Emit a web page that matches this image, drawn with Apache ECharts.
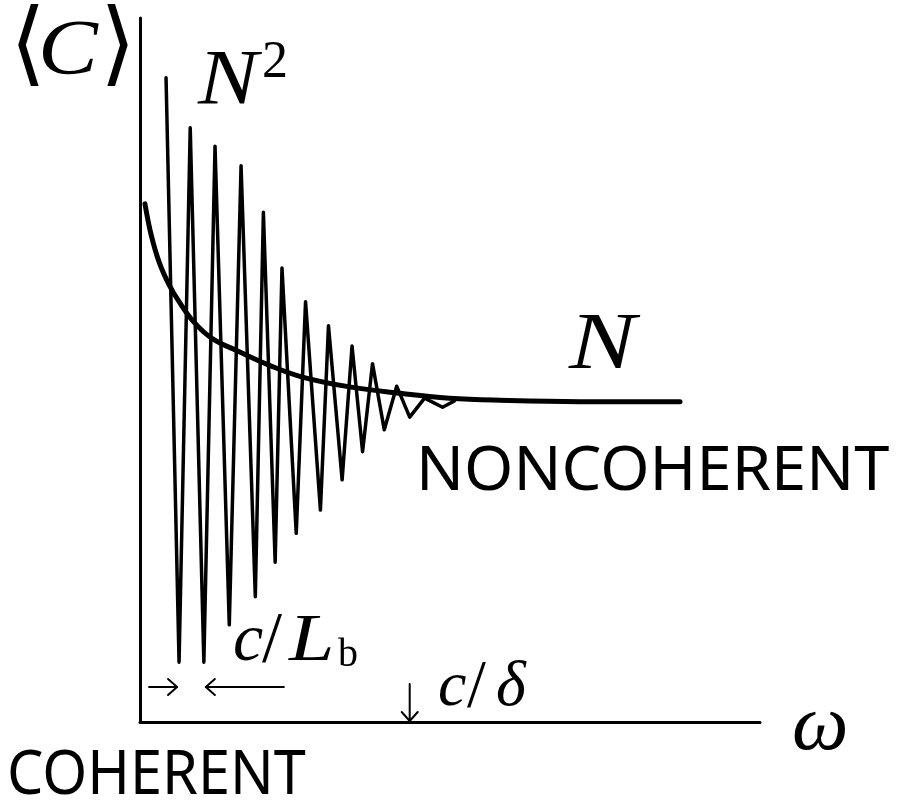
<!DOCTYPE html>
<html>
<head>
<meta charset="utf-8">
<script src="https://cdn.jsdelivr.net/npm/echarts@6/dist/echarts.min.js"></script>
<style>
  html, body { margin: 0; padding: 0; background: #ffffff; }
  #chart { width: 904px; height: 809px; }
</style>
</head>
<body>
<div id="chart"></div>
<script>
// Coherent response: alternating peaks and troughs that die out with omega
const omegaOsc = [4.2, 6.3, 8.1, 10.3, 12.1, 14.4, 16.3, 18.6, 19.9, 21.8, 22.9, 25.2,
                  26.7, 29.1, 30.4, 32.6, 34.2, 35.9, 37.5, 39.4, 41.4, 43.5, 45.9, 48.8, 50.7];
const valueOsc = [91.5, 8.5, 84.4, 8.5, 81.8, 13.8, 79.0, 17.8, 72.4, 22.7, 64.5, 26.8,
                  59.7, 30.1, 56.3, 34.4, 53.4, 38.4, 50.9, 41.5, 47.7, 43.3, 46.0, 44.7, 45.6];

// Averaged (noncoherent) level
const omegaAvg = [0.8, 1.8, 3.1, 4.7, 6.3, 8.7, 11.6, 16.0, 20.8, 26.2, 33.8, 41.8, 49.9, 58.0, 70.9, 87.1];
const valueAvg = [73.6, 69.2, 65.3, 62.1, 59.7, 56.8, 54.5, 52.6, 50.7, 49.0, 47.6, 46.7, 46.0, 45.7, 45.5, 45.5];

// Marked frequencies on the omega axis
const markLb = [6.3, 10.3];   // neighbouring troughs, spacing c/L_b
const markDelta = 43.5;       // c/delta, where the oscillation fades

const zip = (xs, ys) => xs.map((x, i) => [x, ys[i]]);

const chart = echarts.init(document.getElementById('chart'), null, { renderer: 'canvas' });

const SERIF = "'Liberation Serif', 'DejaVu Serif', serif";
const SANS = "'Noto Sans', 'Open Sans', sans-serif";

const axisCommon = {
  type: 'value',
  min: 0,
  max: 100,
  axisLine: { show: true, lineStyle: { color: '#000', width: 3 } },
  axisTick: { show: false },
  axisLabel: { show: false },
  splitLine: { show: false }
};

chart.setOption({
  animation: false,
  backgroundColor: '#ffffff',
  grid: { left: 140, right: 144, top: 18, bottom: 87, containLabel: false },
  xAxis: Object.assign({}, axisCommon),
  yAxis: Object.assign({}, axisCommon),
  series: [
    {
      name: 'coherent',
      type: 'line',
      data: zip(omegaOsc, valueOsc),
      symbol: 'none',
      smooth: false,
      lineStyle: { color: '#000', width: 3.5, join: 'round', cap: 'round' },
      z: 2
    },
    {
      name: 'average',
      type: 'line',
      data: zip(omegaAvg, valueAvg),
      symbol: 'none',
      smooth: 0.4,
      lineStyle: { color: '#000', width: 5, cap: 'round' },
      z: 3
    }
  ]
});

function txt(text, x, y, font, sx) {
  return {
    type: 'text',
    x: x, y: y,
    scaleX: sx || 1,
    silent: true,
    style: {
      text: text, font: font, fill: '#000',
      align: 'left', verticalAlign: 'middle',
      textAlign: 'left', textVerticalAlign: 'middle'
    }
  };
}

function seg(x1, y1, x2, y2, w) {
  return {
    type: 'line', silent: true,
    shape: { x1: x1, y1: y1, x2: x2, y2: y2 },
    style: { stroke: '#000', lineWidth: w || 2, lineCap: 'round' }
  };
}

// Arrows anchored to the marked frequencies
const pA = chart.convertToPixel({ gridIndex: 0 }, [markLb[0], 0]);
const pB = chart.convertToPixel({ gridIndex: 0 }, [markLb[1], 0]);
const pD = chart.convertToPixel({ gridIndex: 0 }, [markDelta, 0]);
const ay = pA[1] - 35;

const graphics = [
  // y-axis label
  txt('⟨', 10, 50, `92px ${SERIF}`),
  txt('C', 38, 52, `italic 78px ${SERIF}`, 1.15),
  txt('⟩', 100, 50, `92px ${SERIF}`),
  // peak and plateau labels
  txt('N', 198, 82, `italic 78px ${SERIF}`, 1.15),
  txt('2', 262, 63, `52px ${SERIF}`),
  txt('N', 569, 347, `italic 80px ${SERIF}`, 1.25),
  // regime names
  txt('NONCOHERENT', 416, 472, `62px ${SANS}`, 1.02),
  txt('COHERENT', 7, 776, `62px ${SANS}`, 0.93),
  // c / L_b
  txt('c', 233, 642, `italic 68px ${SERIF}`),
  txt('/', 262, 642, `72px ${SERIF}`),
  txt('L', 289, 642, `italic 68px ${SERIF}`, 1.2),
  txt('b', 338, 655, `40px ${SERIF}`),
  // c / delta
  txt('c', 438, 688, `italic 64px ${SERIF}`),
  txt('/', 467, 688, `68px ${SERIF}`),
  txt('δ', 496, 688, `italic 64px ${SERIF}`),
  // axis variable
  txt('ω', 792, 728, `italic 80px ${SERIF}`),
  // -> pointing at the first trough
  seg(pA[0] - 30, ay, pA[0] - 2, ay),
  seg(pA[0] - 2, ay, pA[0] - 11, ay - 8),
  seg(pA[0] - 2, ay, pA[0] - 11, ay + 8),
  // <---- pointing at the second trough
  seg(pB[0] + 2, ay, pB[0] + 80, ay),
  seg(pB[0] + 2, ay, pB[0] + 11, ay - 8),
  seg(pB[0] + 2, ay, pB[0] + 11, ay + 8),
  // down arrow onto the omega axis at c/delta
  seg(pD[0], pD[1] - 38, pD[0], pD[1] - 1),
  seg(pD[0], pD[1] - 1, pD[0] - 8, pD[1] - 10),
  seg(pD[0], pD[1] - 1, pD[0] + 8, pD[1] - 10)
];

chart.setOption({ graphic: graphics });
</script>
</body>
</html>
